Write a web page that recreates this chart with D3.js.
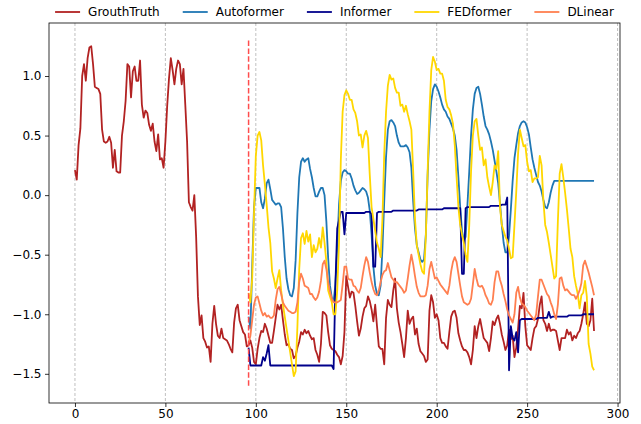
<!DOCTYPE html>
<html>
<head>
<meta charset="utf-8">
<script src="https://cdn.jsdelivr.net/npm/d3@7"></script>
<style>
  body { margin: 0; background: #fff; }
  svg { display: block; font-family: "DejaVu Sans", sans-serif; }
</style>
</head>
<body>
<svg id="chart"></svg>
<script>
// ---- data ----
var seriesNames = ["GrouthTruth", "Autoformer", "Informer", "FEDformer", "DLinear"];
var xTicks = [0, 50, 100, 150, 200, 250, 300];
var yTicks = [-1.5, -1.0, -0.5, 0.0, 0.5, 1.0];
var predStart = 96;          // forecasts start here (red dashed line)
var splitSpan = [-1.6, 1.3]; // extent of the dashed line

var groundTruth = [
  0.21, 0.13, 0.42, 0.56, 1.00, 1.10, 0.96, 1.15, 1.24, 1.25,
  1.10, 0.91, 0.90, 0.89, 0.85, 0.55, 0.45, 0.44, 0.45, 0.49,
  0.44, 0.23, 0.38, 0.20, 0.19, 0.19, 0.50, 0.62, 0.79, 1.10,
  1.08, 0.82, 1.04, 1.08, 0.96, 0.96, 1.13, 0.76, 0.65, 0.71,
  0.69, 0.59, 0.54, 0.60, 0.45, 0.37, 0.51, 0.30, 0.31, 0.23,
  0.45, 0.75, 0.98, 1.15, 1.05, 0.93, 1.06, 1.13, 1.10, 0.93,
  1.06, 0.76, 0.45, -0.06, -0.10, -0.13, 0.00, -0.35, -0.85, -1.09,
  -1.01, -1.20, -1.23, -1.28, -1.27, -1.40, -1.08, -0.93, -1.08, -1.18,
  -1.20, -1.12, -1.20, -1.21, -1.22, -1.25, -1.29, -1.32, -1.07, -0.95,
  -0.92, -1.05, -1.10, -1.15, -1.17, -1.27,
  -1.26, -1.22, -1.28, -1.40, -1.42, -1.29, -1.20, -1.14, -1.15, -1.08,
  -1.12, -1.18, -1.24, -1.24, -1.14, -1.03, -0.92, -0.96, -0.92, -1.05,
  -1.17, -1.26, -1.25, -1.29, -1.30, -1.37, -1.35, -1.28, -1.23, -1.15,
  -1.17, -1.13, -1.16, -1.14, -1.18, -1.21, -1.20, -1.30, -1.34, -1.40,
  -1.25, -0.98, -0.99, -1.01, -1.15, -1.26, -1.29, -1.30, -1.31, -1.34,
  -1.36, -1.42, -1.35, -1.15, -0.68, -0.77, -0.86, -0.81, -0.82, -0.93,
  -1.06, -1.18, -1.12, -1.02, -0.95, -0.93, -0.85, -0.89, -0.96, -1.06,
  -0.92, -1.10, -1.27, -1.29, -1.29, -1.42, -1.03, -0.88, -0.92, -0.94,
  -0.80, -0.70, -0.95, -1.07, -1.15, -1.25, -1.36, -1.20, -0.97, -1.08,
  -1.04, -1.02, -1.17, -1.12, -1.25, -1.31, -1.33, -1.35, -1.40, -1.38,
  -0.97, -0.84, -0.90, -1.03, -1.00, -1.05, -1.20, -1.24, -1.24, -1.27,
  -1.29, -1.15, -1.02, -0.98, -0.97, -1.03, -1.16, -1.22, -1.27, -1.30,
  -1.30, -1.32, -1.36, -1.42, -1.30, -1.10, -1.20, -1.10, -1.04, -1.12,
  -1.20, -1.22, -1.24, -1.31, -1.20, -1.06, -1.09, -1.04, -1.01, -1.08,
  -1.17, -1.23, -1.30, -1.26, -1.13, -1.21, -1.18, -1.36, -1.28, -1.12,
  -0.93, -0.95, -0.82, -1.10, -1.26, -1.28, -1.30, -1.20, -1.12, -1.10,
  -1.04, -0.92, -0.85, -1.05, -1.08, -1.14, -1.08, -1.14, -1.13, -1.13,
  -1.14, -1.22, -1.30, -1.20, -1.20, -1.20, -1.13, -1.17, -1.15, -1.22,
  -1.18, -1.20, -1.16, -1.14, -1.08, -1.00, -0.90, -1.08, -1.10, -1.05,
  -0.87, -1.14
];

var autoformer = [
  -1.02, -1.12, -0.60, -0.10, 0.06, 0.06, 0.06, -0.06, -0.11, -0.03,
  0.10, 0.13, 0.05, -0.04, -0.06, -0.08, -0.07, -0.07, -0.10, -0.28,
  -0.52, -0.70, -0.79, -0.84, -0.85, -0.78, -0.55, -0.15, 0.15, 0.28,
  0.31, 0.28, 0.30, 0.31, 0.22, 0.15, 0.06, -0.01, -0.01, 0.03,
  0.06, 0.06, 0.00, -0.22, -0.53, -0.76, -0.86, -0.89, -0.75, -0.45,
  -0.08, 0.12, 0.19, 0.21, 0.20, 0.18, 0.18, 0.14, 0.08, 0.04,
  0.01, 0.02, 0.04, 0.06, 0.05, 0.03, -0.02, -0.13, -0.33, -0.60,
  -0.76, -0.83, -0.84, -0.76, -0.45, -0.05, 0.32, 0.55, 0.62, 0.63,
  0.61, 0.58, 0.50, 0.44, 0.41, 0.41, 0.41, 0.42, 0.40, 0.36,
  0.23, -0.05, -0.28, -0.42, -0.48, -0.54, -0.56, -0.54, -0.33, 0.17,
  0.55, 0.79, 0.89, 0.93, 0.91, 0.87, 0.82, 0.76, 0.72, 0.70,
  0.66, 0.64, 0.60, 0.56, 0.50, 0.38, 0.15, -0.10, -0.30, -0.38,
  -0.35, -0.08, 0.20, 0.50, 0.72, 0.85, 0.90, 0.91, 0.85, 0.76,
  0.66, 0.58, 0.55, 0.51, 0.45, 0.38, 0.29, 0.20, 0.10, -0.07,
  -0.25, -0.40, -0.48, -0.48, -0.34, -0.12, 0.12, 0.31, 0.42, 0.52,
  0.58, 0.61, 0.62, 0.61, 0.57, 0.51, 0.40, 0.30, 0.23, 0.17,
  0.11, 0.08, 0.03, -0.04, -0.10, -0.11, -0.06, 0.02, 0.08, 0.12,
  0.12, 0.12, 0.12, 0.12, 0.12, 0.12, 0.12, 0.12, 0.12, 0.12,
  0.12, 0.12, 0.12, 0.12, 0.12, 0.12, 0.12, 0.12, 0.12, 0.12,
  0.12, 0.12
];

var informer = [
  -1.28, -1.43, -1.43, -1.43, -1.43, -1.43, -1.43, -1.43, -1.36, -1.39,
  -1.33, -1.26, -1.43, -1.43, -1.43, -1.43, -1.43, -1.43, -1.43, -1.43,
  -1.43, -1.43, -1.43, -1.43, -1.43, -1.43, -1.43, -1.43, -1.43, -1.43,
  -1.43, -1.43, -1.43, -1.43, -1.43, -1.43, -1.43, -1.43, -1.43, -1.43,
  -1.43, -1.43, -1.43, -1.43, -1.43, -1.43, -1.43, -1.46, -0.75, -0.28,
  -0.21, -0.14, -0.14, -0.33, -0.15, -0.15, -0.15, -0.15, -0.15, -0.15,
  -0.15, -0.15, -0.15, -0.15, -0.15, -0.14, -0.14, -0.14, -0.16, -0.60,
  -0.60, -0.15, -0.14, -0.14, -0.14, -0.14, -0.14, -0.14, -0.14, -0.14,
  -0.13, -0.13, -0.13, -0.13, -0.13, -0.13, -0.13, -0.13, -0.13, -0.13,
  -0.13, -0.13, -0.13, -0.13, -0.12, -0.12, -0.12, -0.12, -0.12, -0.12,
  -0.12, -0.12, -0.12, -0.12, -0.12, -0.12, -0.12, -0.12, -0.11, -0.11,
  -0.11, -0.11, -0.11, -0.11, -0.11, -0.11, -0.11, -0.11, -0.66, -0.66,
  -0.11, -0.10, -0.10, -0.10, -0.10, -0.10, -0.10, -0.10, -0.10, -0.10,
  -0.10, -0.10, -0.10, -0.10, -0.09, -0.09, -0.09, -0.09, -0.09, -0.09,
  -0.08, -0.08, -0.08, -0.02, -1.47, -1.10, -1.20, -1.22, -1.15, -1.32,
  -1.05, -1.04, -1.04, -1.04, -1.04, -1.04, -1.04, -1.04, -1.04, -1.04,
  -1.03, -1.03, -1.03, -1.03, -1.03, -1.03, -0.98, -1.03, -1.02, -1.02,
  -1.02, -1.02, -1.02, -1.02, -1.02, -1.02, -1.02, -1.01, -1.01, -1.01,
  -1.01, -1.01, -1.01, -1.01, -1.01, -1.00, -1.00, -1.00, -1.00, -1.00,
  -1.00, -1.00
];

var fedformer = [
  -0.82, -0.90, -0.70, -0.15, 0.33, 0.50, 0.53, 0.46, 0.25, 0.09,
  -0.08, -0.27, -0.40, -0.64, -0.70, -0.78, -0.70, -0.63, -0.80, -0.92,
  -1.02, -1.12, -1.22, -1.32, -1.42, -1.52, -1.48, -1.10, -0.62, -0.36,
  -0.32, -0.41, -0.30, -0.39, -0.33, -0.52, -0.42, -0.48, -0.45, -0.36,
  -0.44, -0.27, -0.40, -0.56, -0.80, -0.85, -0.90, -1.00, -1.00, -0.80,
  -0.40, 0.30, 0.70, 0.84, 0.88, 0.85, 0.80, 0.80, 0.72, 0.69,
  0.62, 0.50, 0.51, 0.40, 0.50, 0.54, 0.48, 0.17, -0.10, -0.20,
  -0.30, -0.40, -0.45, -0.52, -0.20, 0.35, 0.70, 0.92, 1.01, 0.97,
  0.98, 0.90, 0.86, 0.86, 0.75, 0.76, 0.70, 0.75, 0.68, 0.62,
  0.55, 0.20, -0.20, -0.42, -0.50, -0.58, -0.64, -0.66, -0.35, 0.20,
  0.70, 1.05, 1.16, 1.12, 1.05, 1.06, 1.02, 1.02, 0.96, 0.80,
  0.74, 0.72, 0.67, 0.60, 0.42, 0.15, -0.10, -0.25, -0.33, -0.40,
  -0.50, -0.56, -0.25, 0.20, 0.50, 0.62, 0.64, 0.50, 0.38, 0.40,
  0.25, 0.30, 0.15, 0.07, 0.00, 0.11, 0.25, 0.22, 0.37, -0.10,
  -0.25, -0.30, -0.35, -0.38, -0.45, -0.53, -0.52, -0.25, 0.03, 0.35,
  0.55, 0.48, 0.41, 0.42, 0.28, 0.20, 0.21, 0.11, 0.14, 0.14,
  0.15, 0.33, 0.25, -0.05, -0.25, -0.31, -0.40, -0.50, -0.60, -0.70,
  -0.68, -0.22, 0.18, 0.26, 0.15, 0.02, -0.12, -0.28, -0.45, -0.52,
  -0.68, -0.76, -0.83, -0.95, -0.84, -0.82, -0.72, -0.85, -1.25, -1.33,
  -1.44, -1.47
];

var dlinear = [
  -1.24, -1.18, -1.05, -0.92, -0.86, -0.85, -0.91, -0.97, -1.01, -0.99,
  -1.02, -1.01, -1.03, -1.03, -1.01, -0.88, -0.79, -0.77, -0.83, -0.90,
  -0.93, -0.95, -0.97, -0.98, -0.99, -0.99, -0.98, -0.90, -0.73, -0.66,
  -0.70, -0.76, -0.77, -0.78, -0.83, -0.83, -0.86, -0.88, -0.86, -0.81,
  -0.72, -0.58, -0.55, -0.62, -0.73, -0.81, -0.87, -0.90, -0.90, -0.90,
  -0.89, -0.88, -0.75, -0.60, -0.60, -0.70, -0.71, -0.71, -0.76, -0.77,
  -0.80, -0.82, -0.78, -0.68, -0.59, -0.52, -0.56, -0.65, -0.73, -0.79,
  -0.83, -0.84, -0.80, -0.73, -0.67, -0.64, -0.63, -0.57, -0.63, -0.69,
  -0.71, -0.73, -0.73, -0.75, -0.77, -0.79, -0.82, -0.80, -0.70, -0.59,
  -0.50, -0.58, -0.68, -0.77, -0.82, -0.85, -0.85, -0.85, -0.84, -0.76,
  -0.62, -0.56, -0.63, -0.70, -0.69, -0.72, -0.75, -0.77, -0.79, -0.81,
  -0.83, -0.76, -0.64, -0.56, -0.52, -0.56, -0.66, -0.76, -0.85, -0.90,
  -0.91, -0.92, -0.91, -0.87, -0.75, -0.62, -0.70, -0.76, -0.77, -0.76,
  -0.79, -0.84, -0.87, -0.91, -0.92, -0.88, -0.73, -0.64, -0.64, -0.71,
  -0.76, -0.83, -0.89, -0.96, -1.01, -1.04, -1.07, -1.00, -0.82, -0.77,
  -0.86, -0.91, -0.92, -0.94, -0.97, -0.99, -1.01, -1.03, -1.05, -1.00,
  -0.85, -0.71, -0.71, -0.75, -0.79, -0.83, -0.85, -0.90, -0.94, -1.00,
  -1.04, -0.92, -0.70, -0.69, -0.76, -0.80, -0.79, -0.81, -0.83, -0.84,
  -0.84, -0.87, -0.84, -0.80, -0.74, -0.59, -0.55, -0.60, -0.65, -0.71,
  -0.77, -0.84
];

// ---- styling ----
var colors = ["#b22222", "#1f77b4", "#00008b", "#ffd700", "#ff7f50"];

var W = 641, H = 424;
var margin = {top: 23, right: 21, bottom: 21, left: 49};
var width = W - margin.left - margin.right,
    height = H - margin.top - margin.bottom;

var svg = d3.select("#chart")
    .attr("width", W)
    .attr("height", H);

var g = svg.append("g")
    .attr("transform", "translate(" + margin.left + "," + margin.top + ")");

var x = d3.scaleLinear()
    .domain([-14.35, 301.35])
    .range([0, width]);

var y = d3.scaleLinear()
    .domain([-1.745, 1.445])
    .range([height, 0]);

// vertical dashed grid
g.selectAll("line.grid")
  .data(xTicks)
  .enter()
  .append("line")
    .attr("class", "grid")
    .attr("x1", function(d) { return x(d); })
    .attr("x2", function(d) { return x(d); })
    .attr("y1", 0)
    .attr("y2", height)
    .attr("stroke", "#b0b0b0")
    .attr("stroke-width", 0.8)
    .attr("stroke-dasharray", "3,2");

// series, each one {name, start, values}
var allSeries = [
  {name: seriesNames[0], start: 0, values: groundTruth},
  {name: seriesNames[1], start: predStart, values: autoformer},
  {name: seriesNames[2], start: predStart, values: informer},
  {name: seriesNames[3], start: predStart, values: fedformer},
  {name: seriesNames[4], start: predStart, values: dlinear}
];

var line = d3.line()
  .x(function(d) { return x(d.t); })
  .y(function(d) { return y(d.v); });

g.selectAll("path.series")
  .data(allSeries)
  .enter()
  .append("path")
    .attr("class", "series")
    .attr("d", function(s) {
      return line(s.values.map(function(v, i) { return {t: s.start + i, v: v}; }));
    })
    .attr("fill", "none")
    .attr("stroke", function(s, i) { return colors[i]; })
    .attr("stroke-width", 1.8)
    .attr("stroke-linejoin", "round");

// forecast start marker
g.append("line")
  .attr("x1", x(predStart))
  .attr("x2", x(predStart))
  .attr("y1", y(splitSpan[0]))
  .attr("y2", y(splitSpan[1]))
  .attr("stroke", "#ff4d4d")
  .attr("stroke-width", 1.5)
  .attr("stroke-dasharray", "5.5,2.4");

// axes
var xAxis = g.append("g")
  .attr("transform", "translate(0," + height + ")")
  .call(d3.axisBottom(x).tickValues(xTicks).tickSize(4).tickPadding(2.5)
        .tickFormat(d3.format("d")));

var yAxis = g.append("g")
  .call(d3.axisLeft(y).tickValues(yTicks).tickSize(4).tickPadding(3.5)
        .tickFormat(d3.format(".1f")));

[xAxis, yAxis].forEach(function(a) {
  a.select(".domain").remove();
  a.selectAll(".tick line").attr("stroke", "#000").attr("stroke-width", 0.8);
  a.selectAll(".tick text")
    .attr("fill", "#000")
    .style("font-family", "'DejaVu Sans', sans-serif")
    .style("font-size", "12px");
});

// frame
g.append("rect")
  .attr("width", width)
  .attr("height", height)
  .attr("fill", "none")
  .attr("stroke", "#000")
  .attr("stroke-width", 0.8);

// legend above the axes, one row, centred
var handleLen = 25, textPad = 8, colGap = 23;
var legend = svg.append("g");
var items = legend.selectAll("g.item")
  .data(seriesNames)
  .enter()
  .append("g")
    .attr("class", "item");

items.append("line")
  .attr("x1", 0).attr("x2", handleLen)
  .attr("y1", 0).attr("y2", 0)
  .attr("stroke", function(d, i) { return colors[i]; })
  .attr("stroke-width", 1.8);

items.append("text")
  .attr("x", handleLen + textPad)
  .attr("dy", "0.35em")
  .style("font-size", "12px")
  .attr("fill", "#000")
  .text(function(d) { return d; });

var offsets = [], pos = 0;
items.each(function() {
  offsets.push(pos);
  var tw = d3.select(this).select("text").node().getComputedTextLength();
  pos += handleLen + textPad + tw + colGap;
});
var total = pos - colGap;
var startX = margin.left + width / 2 - total / 2;
items.attr("transform", function(d, i) {
  return "translate(" + (startX + offsets[i]) + ",12)";
});
</script>
</body>
</html>
